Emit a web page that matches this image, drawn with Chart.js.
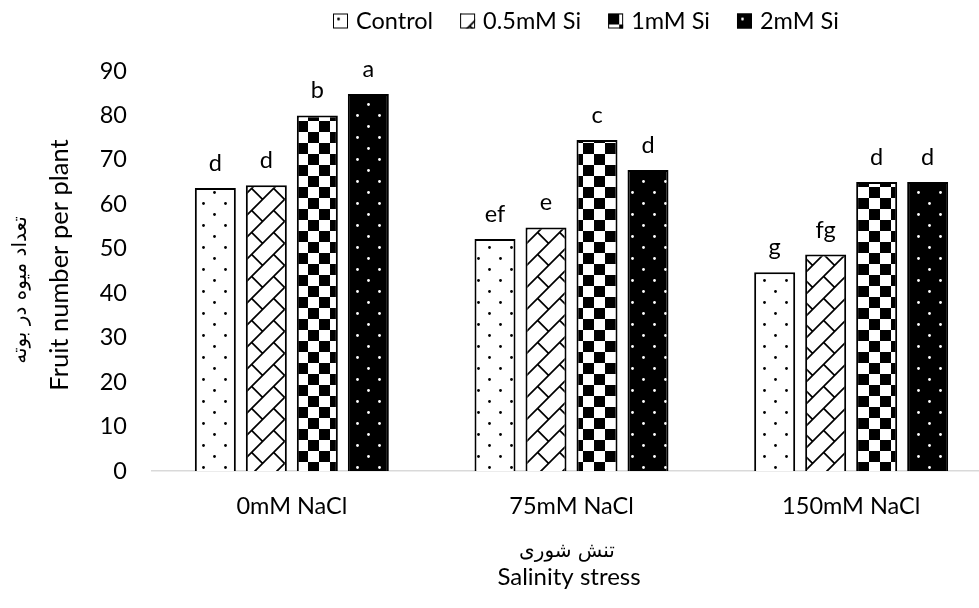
<!DOCTYPE html>
<html>
<head>
<meta charset="utf-8">
<script src="https://cdn.jsdelivr.net/npm/chart.js@4.4.1/dist/chart.umd.min.js"></script>
<style>
  html, body { margin: 0; padding: 0; background: #fff; overflow: hidden; }
  #wrap { width: 1000px; height: 608px; }
</style>
</head>
<body>
<div id="wrap"><canvas id="fruitChart" width="1000" height="608"></canvas></div>
<script>
const categories = ['0mM NaCl', '75mM NaCl', '150mM NaCl'];
const seriesNames = ['Control', '0.5mM Si', '1mM Si', '2mM Si'];
const controlValues = [63.7, 52.2, 44.7];
const si05Values = [64.3, 54.8, 48.7];
const si1Values = [80.0, 74.5, 65.0];
const si2Values = [84.8, 67.7, 65.0];
// letters of the mean comparison, written above each bar
const controlLetters = ['d', 'ef', 'g'];
const si05Letters = ['d', 'e', 'fg'];
const si1Letters = ['b', 'c', 'd'];
const si2Letters = ['a', 'd', 'd'];
const yTickValues = [0, 10, 20, 30, 40, 50, 60, 70, 80, 90];

const FONT = 'Lato';
const ctx = document.getElementById('fruitChart').getContext('2d');

// pattern fills (22px tiles)
function makeTile(draw) {
    const c = document.createElement('canvas');
    c.width = 22; c.height = 22;
    const g = c.getContext('2d');
    draw(g);
    return ctx.createPattern(c, 'repeat');
}
function dots(g, bg, fg) {
    g.fillStyle = bg; g.fillRect(0, 0, 22, 22);
    g.fillStyle = fg;
    [[5.5, 5.5], [16.5, 16.5]].forEach(([x, y]) => {
        g.beginPath(); g.arc(x, y, 1.4, 0, Math.PI * 2); g.fill();
    });
}
const dotPattern = makeTile(g => dots(g, '#fff', '#000'));
const whiteDotPattern = makeTile(g => dots(g, '#000', '#fff'));
const brickPattern = makeTile(g => {
    g.fillStyle = '#fff'; g.fillRect(0, 0, 22, 22);
    g.strokeStyle = '#000'; g.lineWidth = 1.7;
    g.beginPath();
    g.moveTo(-2, 24); g.lineTo(24, -2);
    g.moveTo(-2, 2); g.lineTo(2, -2);
    g.moveTo(20, 24); g.lineTo(24, 20);
    g.moveTo(9.6, 12.4); g.lineTo(21, 23.8);
    g.moveTo(9.6, -9.6); g.lineTo(21, 1.8);
    g.stroke();
});
const checkerPattern = makeTile(g => {
    g.fillStyle = '#fff'; g.fillRect(0, 0, 22, 22);
    g.fillStyle = '#000';
    g.fillRect(0, 0, 11, 11); g.fillRect(11, 11, 11, 11);
});

const fills = [dotPattern, brickPattern, checkerPattern, whiteDotPattern];

// letters above bars + titles + legend
const extrasPlugin = {
    id: 'extras',
    afterDatasetsDraw(chart) {
        const c = chart.ctx;
        c.save();
        c.fillStyle = '#000';
        c.font = '23.5px ' + FONT;
        c.textAlign = 'center';
        c.textBaseline = 'alphabetic';
        chart.data.datasets.forEach((ds, di) => {
            chart.getDatasetMeta(di).data.forEach((bar, i) => {
                c.fillText(ds.letters[i], bar.x, bar.y - 17);
            });
        });
        c.restore();
    },
    afterDraw(chart) {
        const c = chart.ctx;
        c.save();
        c.fillStyle = '#000';
        c.textAlign = 'center';
        c.textBaseline = 'middle';

        // y axis titles
        c.save();
        c.translate(60, 265);
        c.rotate(-Math.PI / 2);
        c.font = '25.5px ' + FONT;
        c.fillText('Fruit number per plant', 0, 0);
        c.restore();
        c.save();
        c.translate(21, 290);
        c.rotate(-Math.PI / 2);
        c.font = '20px "DejaVu Sans"';
        c.fillText('تعداد میوه در بوته', 0, 0);
        c.restore();

        // x axis titles
        c.font = '20px "DejaVu Sans"';
        c.fillText('تنش شوری', 567, 552);
        c.font = '24px ' + FONT;
        c.fillText('Salinity stress', 569, 577);

        // legend
        c.font = '23.5px ' + FONT;
        c.textAlign = 'left';
        let x = 333;
        const y = 21, box = 15;
        chart.data.datasets.forEach(ds => {
            c.save();
            c.translate(x, y - box / 2);
            c.fillStyle = ds.backgroundColor;
            c.fillRect(0, 0, box, box);
            c.strokeStyle = '#000';
            c.lineWidth = 1;
            c.strokeRect(0.5, 0.5, box - 1, box - 1);
            c.restore();
            c.fillText(ds.label, x + box + 8, y);
            x += box + 8 + c.measureText(ds.label).width + 27;
        });
        c.restore();
    }
};

const valueSets = [controlValues, si05Values, si1Values, si2Values];
const letterSets = [controlLetters, si05Letters, si1Letters, si2Letters];

const fruitChart = new Chart(ctx, {
    type: 'bar',
    data: {
        labels: categories,
        datasets: seriesNames.map((name, i) => ({
            label: name,
            data: valueSets[i],
            letters: letterSets[i],
            backgroundColor: fills[i],
            borderColor: '#000',
            borderWidth: 2,
            barPercentage: 0.804,
            categoryPercentage: 0.7294
        }))
    },
    options: {
        responsive: false,
        animation: false,
        layout: { padding: { top: 71, right: 9, left: 0, bottom: 0 } },
        plugins: {
            legend: { display: false },
            tooltip: { enabled: false }
        },
        scales: {
            x: {
                z: 1,
                grid: { display: false, drawTicks: false },
                border: { display: true, color: '#d9d9d9', width: 1.5 },
                ticks: { color: '#000', font: { family: FONT, size: 23.5 }, padding: 21 },
                afterFit: s => { s.height = 137; }
            },
            y: {
                min: 0,
                max: 90,
                grid: { display: false, drawTicks: false },
                border: { display: false },
                ticks: { color: '#000', font: { family: FONT, size: 23.5 }, padding: 25 },
                afterBuildTicks: s => { s.ticks = yTickValues.map(v => ({ value: v })); },
                afterFit: s => { s.width = 152; }
            }
        }
    },
    plugins: [extrasPlugin]
});
</script>
</body>
</html>
